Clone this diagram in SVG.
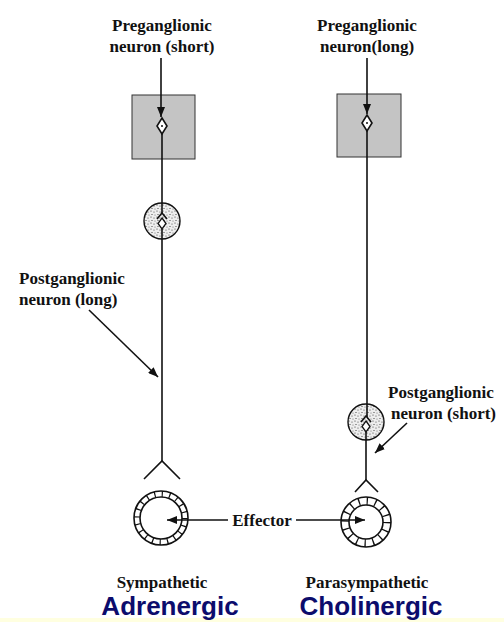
<svg xmlns="http://www.w3.org/2000/svg" width="504" height="622" viewBox="0 0 504 622">
<style>
.lbl{font-family:"Liberation Serif","Times New Roman",serif;font-weight:bold;font-size:17px;fill:#111;}
.big{font-family:"Liberation Sans",Arial,sans-serif;font-weight:bold;font-size:26px;fill:#0c0c6c;}
.ln{stroke:#111;stroke-width:1.6;fill:none;}
.box{fill:#c4c4c4;stroke:#333;stroke-width:1;}
.dia{fill:#fff;stroke:#111;stroke-width:1.6;}
.gang{fill:url(#stip);stroke:#111;stroke-width:1.4;}
.ring{fill:#fff;stroke:#111;stroke-width:1.6;}
</style>
<defs>
<pattern id="stip" width="6" height="6" patternUnits="userSpaceOnUse">
<rect width="6" height="6" fill="#eeeeee"/>
<circle cx="1" cy="1" r="0.6" fill="#333"/>
<circle cx="4" cy="2" r="0.6" fill="#444"/>
<circle cx="2" cy="4.5" r="0.6" fill="#333"/>
<circle cx="5" cy="5" r="0.5" fill="#555"/>
</pattern>
<marker id="ah" viewBox="0 0 10 8" refX="10" refY="4" markerWidth="10" markerHeight="8" markerUnits="userSpaceOnUse" orient="auto">
<path d="M0,0 L10,4 L0,8 Z" fill="#111"/>
</marker>
</defs>
<rect x="0" y="618" width="504" height="4" fill="#ffffe0"/>

<g id="sym-preganglionic-label">
<text class="lbl" x="162" y="31" text-anchor="middle">Preganglionic</text>
<text class="lbl" x="162" y="52" text-anchor="middle">neuron (short)</text>
</g>
<g id="para-preganglionic-label">
<text class="lbl" x="367" y="31" text-anchor="middle">Preganglionic</text>
<text class="lbl" x="367" y="52" text-anchor="middle">neuron(long)</text>
</g>

<g id="sym-cns">
<rect class="box" x="132" y="95" width="63" height="64"/>
<line class="ln" x1="162" y1="134" x2="162" y2="213"/>
<path class="dia" d="M162,118 L167,126 L162,134 L157,126 Z"/>
<circle cx="162" cy="126" r="1" fill="#111"/>
</g>
<g id="para-cns">
<rect class="box" x="337" y="94" width="64" height="63"/>
<line class="ln" x1="367" y1="131" x2="367" y2="417"/>
<path class="dia" d="M367,115 L372,123 L367,131 L362,123 Z"/>
<circle cx="367" cy="123" r="1" fill="#111"/>
</g>

<g id="sym-ganglion">
<circle class="gang" cx="162" cy="221" r="18"/>
<line class="ln" x1="162" y1="203" x2="162" y2="214"/>
<path class="ln" d="M157,219 L162,213 L167,219"/>
<path class="dia" d="M162,218 L166,223.5 L162,229 L158,223.5 Z" style="stroke-width:1.3"/>
<line class="ln" x1="162" y1="229" x2="162" y2="461"/>
<path class="ln" d="M144,479 L162,461 L180,479"/>
</g>
<g id="para-ganglion">
<circle class="gang" cx="366" cy="422" r="18"/>
<line class="ln" x1="367" y1="404" x2="367" y2="417"/>
<path class="ln" d="M361,422 L366,416 L371,422"/>
<path class="dia" d="M366,421 L370,426.5 L366,432 L362,426.5 Z" style="stroke-width:1.3"/>
<line class="ln" x1="366" y1="432" x2="366" y2="480"/>
<path class="ln" d="M355,492 L366,480 L378,492"/>
</g>

<g id="sym-postganglionic-label">
<text class="lbl" x="19" y="284">Postganglionic</text>
<text class="lbl" x="19" y="305">neuron (long)</text>
</g>
<g id="para-postganglionic-label">
<text class="lbl" x="388" y="398">Postganglionic</text>
<text class="lbl" x="391" y="419">neuron (short)</text>
</g>

<g id="sym-effector">
<circle class="ring" cx="161" cy="518" r="27"/>
<circle cx="161" cy="518" r="24" fill="none" stroke="#111" stroke-width="6" stroke-dasharray="1.2 6.34"/>
<circle cx="161" cy="518" r="21" fill="#fff" stroke="#111" stroke-width="1.6"/>
</g>
<g id="para-effector">
<circle class="ring" cx="366" cy="522" r="25"/>
<circle cx="366" cy="522" r="21" fill="none" stroke="#111" stroke-width="8" stroke-dasharray="1.3 6.95"/>
<circle cx="366" cy="522" r="17" fill="#fff" stroke="#111" stroke-width="1.6"/>
</g>
<g id="effector-label">
<text class="lbl" x="262" y="526" text-anchor="middle">Effector</text>
</g>

<g id="sym-title">
<text class="lbl" x="162" y="588" text-anchor="middle">Sympathetic</text>
<text class="big" x="170" y="615" text-anchor="middle">Adrenergic</text>
</g>
<g id="para-title">
<text class="lbl" x="367" y="588" text-anchor="middle">Parasympathetic</text>
<text class="big" x="371" y="615" text-anchor="middle">Cholinergic</text>
</g>

<g id="connectors">
<line class="ln" x1="161" y1="58" x2="161" y2="117" marker-end="url(#ah)"/>
<line class="ln" x1="367" y1="58" x2="367" y2="114" marker-end="url(#ah)"/>
<line class="ln" x1="89" y1="310" x2="158" y2="377" marker-end="url(#ah)"/>
<line class="ln" x1="407" y1="423" x2="375" y2="453" marker-end="url(#ah)"/>
<line class="ln" x1="228" y1="520" x2="167" y2="520" marker-end="url(#ah)"/>
<line class="ln" x1="296" y1="520" x2="365" y2="520" marker-end="url(#ah)"/>
</g>
</svg>
